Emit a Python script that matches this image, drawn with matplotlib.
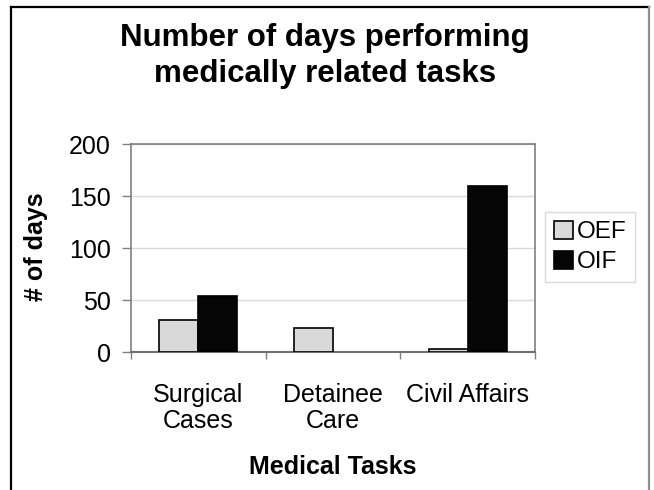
import numpy as np
import matplotlib.pyplot as plt
from matplotlib.lines import Line2D

plt.rcParams['font.family'] = ['Liberation Sans', 'DejaVu Sans']

categories = ['Surgical\nCases', 'Detainee\nCare', 'Civil Affairs']
series_names = ['OEF', 'OIF']
oef_days = [31, 23, 2.5]
oif_days = [54, 0, 160]
y_ticks = [0, 50, 100, 150, 200]

fig = plt.figure(figsize=(6.54, 4.9), dpi=100)
ax = fig.add_axes([0.2003, 0.2816, 0.618, 0.4245])

x = np.arange(len(categories))
w = 0.29
b1 = ax.bar(x - w / 2, oef_days, w, color='#d9d9d9', edgecolor='black', linewidth=1.2,
            label=series_names[0], zorder=3)
b2 = ax.bar(x + w / 2, oif_days, w, color='#050505', edgecolor='black', linewidth=1.2,
            label=series_names[1], zorder=3)
# empty bars leave no outline on the axis
for p in list(b1) + list(b2):
    if p.get_height() == 0:
        p.set_linewidth(0)

ax.set_xlim(-0.5, len(categories) - 0.5)
ax.set_ylim(0, 200)
ax.set_yticks(y_ticks)
ax.set_xticks(x)
ax.set_xticklabels(categories, fontsize=18, linespacing=1.15)
ax.set_xticks(np.arange(-0.5, len(categories)), minor=True)
ax.tick_params(axis='x', which='major', length=0, pad=22)
ax.tick_params(axis='x', which='minor', length=5, color='#808080', width=1)
ax.tick_params(axis='y', labelsize=18, length=6.5, color='#808080', width=1, pad=8)

ax.grid(axis='y', color='#d9d9d9', linewidth=1, zorder=0)
for side in ['left', 'top', 'right']:
    ax.spines[side].set_color('#808080')
    ax.spines[side].set_linewidth(1.2)
ax.spines['bottom'].set_color('#707070')
ax.spines['bottom'].set_linewidth(1.5)

leg = ax.legend(loc='upper left', bbox_to_anchor=(545 / 654, 1 - 212 / 490),
                bbox_transform=fig.transFigure, fontsize=17.5, frameon=True,
                fancybox=False, edgecolor='#d0d0d0', handlelength=0.8,
                handleheight=0.8, handletextpad=0.15, borderpad=0.35,
                labelspacing=0.3, borderaxespad=0)
leg.get_frame().set_linewidth(1)

fig.text(0.497, 1 - 56 / 490, 'Number of days performing\nmedically related tasks',
         ha='center', va='center', fontsize=22.5, fontweight='bold', linespacing=1.25)
fig.text(36 / 654, 1 - 247 / 490, '# of days', rotation=90, ha='center', va='center',
         fontsize=18, fontweight='bold')
fig.text(333 / 654, 1 - 467 / 490, 'Medical Tasks', ha='center', va='center',
         fontsize=18, fontweight='bold')

# outer frame of the original picture (bottom edge cut off)
fig.add_artist(Line2D([11 / 654, 11 / 654], [0, 1 - 7 / 490], color='black', linewidth=1.6))
fig.add_artist(Line2D([11 / 654, 649 / 654], [1 - 7 / 490, 1 - 7 / 490], color='black', linewidth=1.6))
fig.add_artist(Line2D([649 / 654, 649 / 654], [0, 1 - 7 / 490], color='#909090', linewidth=1.6))

fig.savefig('out.png', dpi=100)
